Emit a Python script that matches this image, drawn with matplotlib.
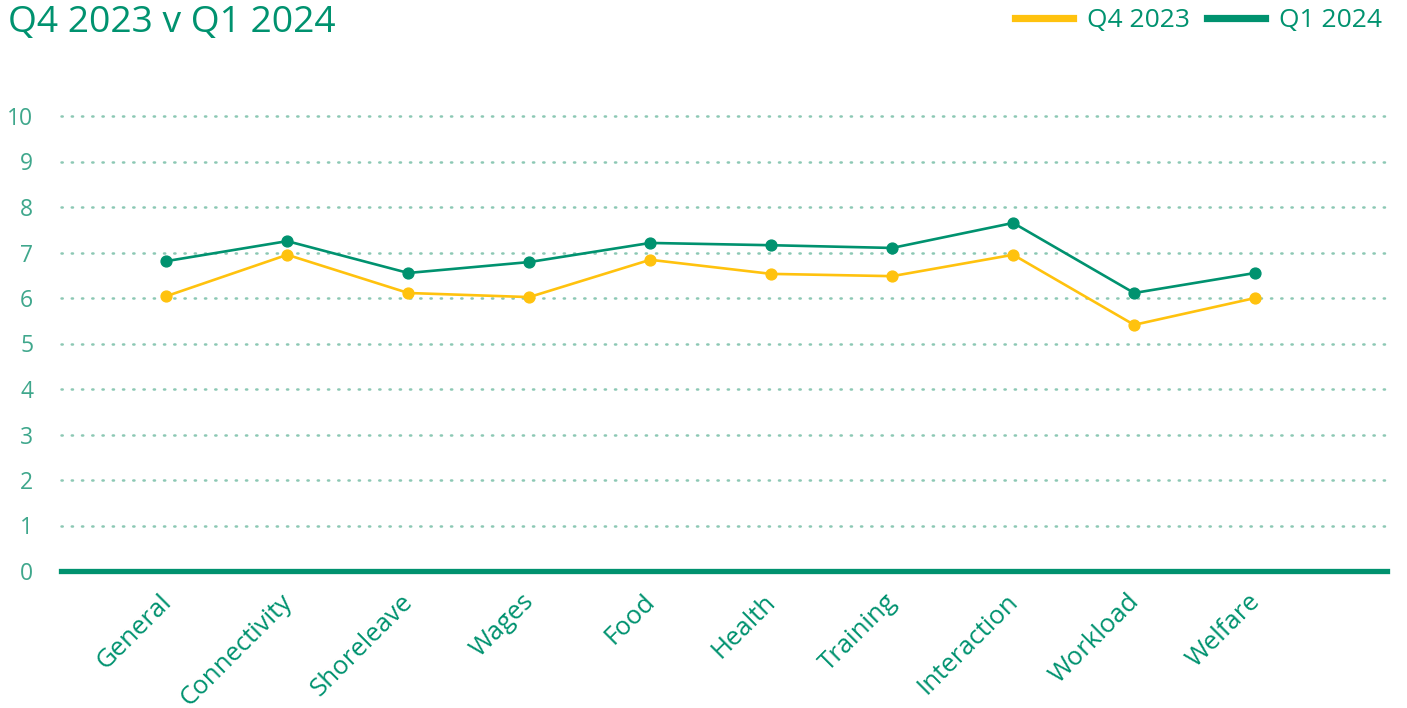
import matplotlib
matplotlib.use('Agg')
import matplotlib.pyplot as plt
from matplotlib.lines import Line2D
from matplotlib.transforms import ScaledTranslation
import numpy as np

categories = ['General', 'Connectivity', 'Shoreleave', 'Wages', 'Food',
              'Health', 'Training', 'Interaction', 'Workload', 'Welfare']
q4_2023 = [6.04, 6.95, 6.11, 6.02, 6.84, 6.53, 6.48, 6.95, 5.41, 6.00]
q1_2024 = [6.81, 7.25, 6.55, 6.79, 7.21, 7.16, 7.10, 7.65, 6.11, 6.55]
y_ticks = [0, 1, 2, 3, 4, 5, 6, 7, 8, 9, 10]

GREEN = '#00926f'
YELLOW = '#ffc20e'
LIGHT = '#3fa78c'
GRID = '#8cc8b4'

plt.rcParams['font.family'] = ['Open Sans', 'DejaVu Sans']

W, H = 1407, 708
fig = plt.figure(figsize=(W / 100, H / 100), dpi=100)
ax = fig.add_axes([61 / W, (H - 571) / H, (1387 - 61) / W, (571 - 116) / H])

x = np.arange(len(categories))
ax.plot(x, q4_2023, color=YELLOW, lw=1.9, marker='o', ms=7.8, zorder=3)
ax.plot(x, q1_2024, color=GREEN, lw=1.9, marker='o', ms=7.8, zorder=4)

ax.set_xlim(-0.87, 10.09)
ax.set_ylim(0, 10)
ax.set_yticks(y_ticks)
for t in y_ticks[1:]:
    ax.axhline(t, color=GRID, lw=1.8, linestyle=(0, (0.5, 3.6)),
               dash_capstyle='round', zorder=1, clip_on=False)
ax.axhline(0, color=GREEN, lw=3.8, zorder=2, clip_on=False)

for s in ax.spines.values():
    s.set_visible(False)
ax.tick_params(axis='both', length=0)
ax.tick_params(axis='y', pad=20, labelsize=16.5, labelcolor=LIGHT)
ax.tick_params(axis='x', pad=13, labelsize=18.5, labelcolor=GREEN)

ax.set_xticks(x)
ax.set_xticklabels(categories, rotation=45, ha='right')
shift = ScaledTranslation(10 / 100, 0, fig.dpi_scale_trans)
for lab in ax.get_xticklabels():
    lab.set_transform(lab.get_transform() + shift)

fig.text(8 / W, 1 - 32 / H, 'Q4 2023 v Q1 2024', color=GREEN,
         fontsize=26.8, ha='left', va='baseline')

handles = [Line2D([], [], color=YELLOW, lw=5.2),
           Line2D([], [], color=GREEN, lw=5.2)]
fig.legend(handles, ['Q4 2023', 'Q1 2024'], ncol=2, frameon=False,
           loc='upper right', bbox_to_anchor=(1382 / W, 1 - 8 / H),
           fontsize=19, labelcolor=GREEN, handlelength=2.2,
           handletextpad=0.53, columnspacing=0.64, borderpad=0,
           borderaxespad=0)

fig.savefig('out.png', dpi=100)
